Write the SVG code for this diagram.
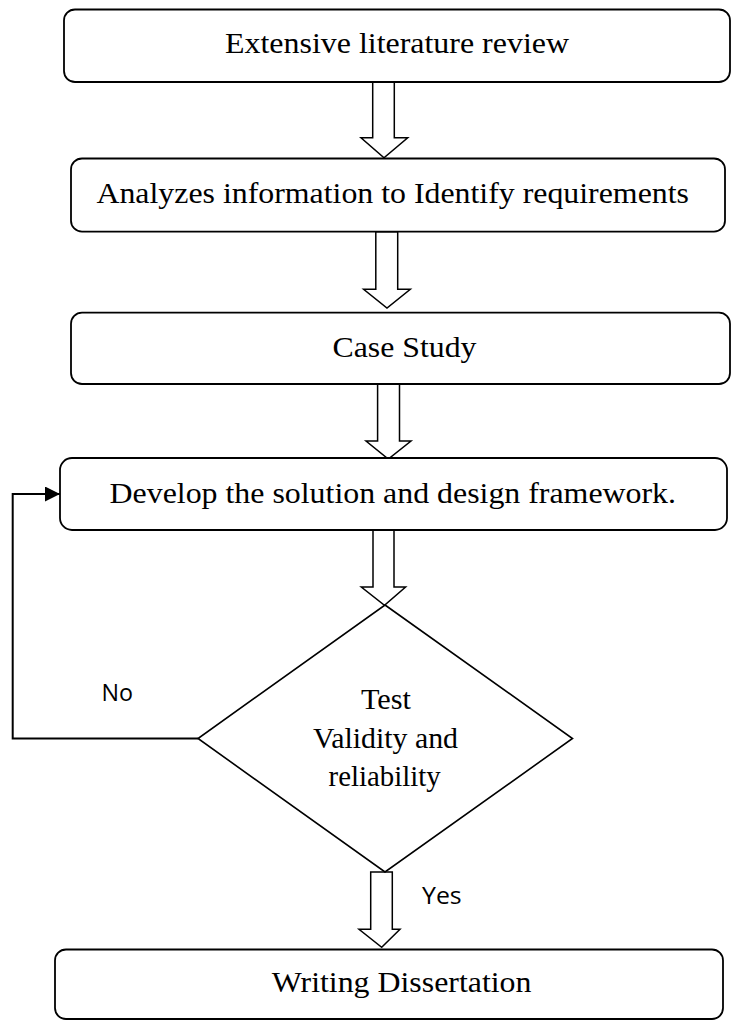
<svg xmlns="http://www.w3.org/2000/svg" width="731" height="1021" viewBox="0 0 731 1021">
  <style>
    .box { fill: #ffffff; stroke: #000000; stroke-width: 1.8; }
    .diamond { fill: #ffffff; stroke: #000000; stroke-width: 1.6; }
    .flow { fill: #ffffff; stroke: #000000; stroke-width: 1.5; stroke-linejoin: miter; }
    .loop { fill: none; stroke: #000000; stroke-width: 2; }
    .label { font-family: "Liberation Serif", "Times New Roman", serif; font-size: 30px; fill: #000000; text-anchor: middle; }
    .tag { font-family: "Open Sans", "Liberation Sans", sans-serif; font-size: 24px; fill: #000000; }
  </style>
  <defs>
    <marker id="head" viewBox="0 0 15 15" refX="15" refY="7.5" markerWidth="15" markerHeight="15" markerUnits="userSpaceOnUse" orient="auto">
      <path d="M0,0 L15,7.5 L0,15 Z" fill="#000000"/>
    </marker>
  </defs>

  <rect width="731" height="1021" fill="#ffffff"/>

  <!-- connectors: hollow block arrows and the "No" loop back to the design step -->
  <g id="connectors">
    <path class="flow" d="M372.7,82 L394.3,82 L394.3,137.7 L407.7,137.7 L384,157.7 L361,137.7 L372.7,137.7 Z"/>
    <path class="flow" d="M375.8,231.7 L397.7,231.7 L397.7,289.3 L410.3,289.3 L387,308 L363.6,289.3 L375.8,289.3 Z"/>
    <path class="flow" d="M377.6,384 L399.5,384 L399.5,441 L411,441 L388.3,459 L366,441 L377.6,441 Z"/>
    <path class="flow" d="M373,530 L394,530 L394,587 L405.6,587 L384.5,605.3 L361.3,587 L373,587 Z"/>
    <path class="flow" d="M370.7,872 L392.3,872 L392.3,929.3 L400,929.3 L381.7,947.3 L359,929.3 L370.7,929.3 Z"/>
    <polyline class="loop" points="198,738.5 12.7,738.5 12.7,494 60,494" marker-end="url(#head)"/>
    <text class="tag" x="101.5" y="701" textLength="31.5" lengthAdjust="spacingAndGlyphs">No</text>
    <text class="tag" x="422" y="904.3" textLength="39.7" lengthAdjust="spacingAndGlyphs">Yes</text>
  </g>

  <g id="literature-review">
    <rect class="box" x="64" y="9.5" width="666" height="72.5" rx="11"/>
    <text class="label" x="397" y="53" textLength="344" lengthAdjust="spacingAndGlyphs">Extensive literature review</text>
  </g>

  <g id="identify-requirements">
    <rect class="box" x="71" y="158.5" width="654" height="73.2" rx="11"/>
    <text class="label" x="392.7" y="202.7" textLength="592.5" lengthAdjust="spacingAndGlyphs">Analyzes information to Identify requirements</text>
  </g>

  <g id="case-study">
    <rect class="box" x="71" y="312.7" width="659" height="71.3" rx="11"/>
    <text class="label" x="404.5" y="356.7" textLength="144" lengthAdjust="spacingAndGlyphs">Case Study</text>
  </g>

  <g id="design-framework">
    <rect class="box" x="60" y="458" width="667" height="72" rx="12"/>
    <text class="label" x="392.8" y="502.7" textLength="566.4" lengthAdjust="spacingAndGlyphs">Develop the solution and design framework.</text>
  </g>

  <g id="validity-test">
    <polygon class="diamond" points="385,605 572.5,738.5 385,872 198,738.5"/>
    <text class="label" x="386" y="709.3" textLength="50" lengthAdjust="spacingAndGlyphs">Test</text>
    <text class="label" x="385.5" y="747.7" textLength="145" lengthAdjust="spacingAndGlyphs">Validity and</text>
    <text class="label" x="384.6" y="785.7" textLength="112" lengthAdjust="spacingAndGlyphs">reliability</text>
  </g>

  <g id="writing-dissertation">
    <rect class="box" x="55" y="949.5" width="668" height="69.5" rx="11"/>
    <text class="label" x="401.6" y="991.7" textLength="259.7" lengthAdjust="spacingAndGlyphs">Writing Dissertation</text>
  </g>
</svg>
